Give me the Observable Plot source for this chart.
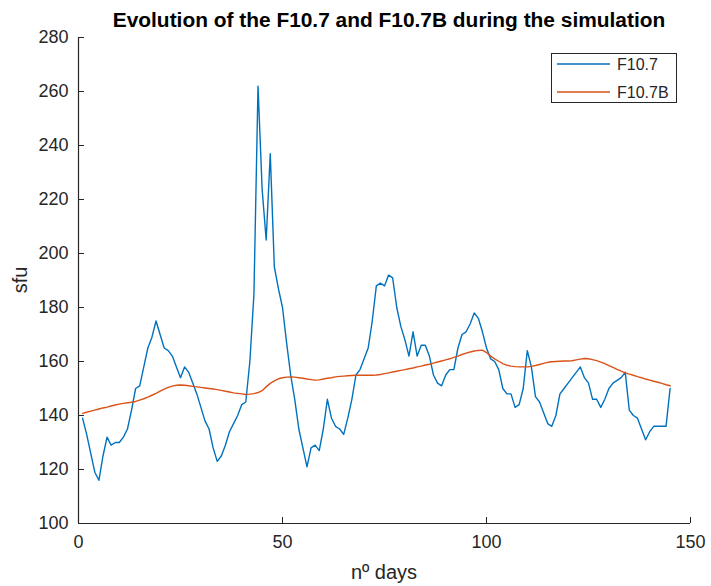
<!DOCTYPE html>
<html>
<head>
<meta charset="utf-8">
<script src="https://cdn.jsdelivr.net/npm/d3@7"></script>
<script src="https://cdn.jsdelivr.net/npm/@observablehq/plot@0.6"></script>
<style>
  body { margin: 0; background: #fff; font-family: "Liberation Sans", Arial, sans-serif; }
  #wrap { position: relative; width: 711px; height: 586px; background: #fff; }
  #title { position: absolute; left: 89px; width: 600px; top: 8px; text-align: center;
           font-weight: bold; font-size: 20.9px; color: #000; white-space: nowrap; }
  #legend { position: absolute; left: 551px; top: 53px; width: 126px; height: 50px;
            border: 1px solid #262626; background: #fff; box-sizing: border-box; }
  #xlabel { position: absolute; left: 78px; width: 612px; top: 561px; text-align: center;
            font-size: 20px; color: #262626; }
  #ylabel { position: absolute; left: 20px; top: 280px; transform: translate(-50%, -50%) rotate(-90deg);
            font-size: 20px; color: #262626; white-space: nowrap; }
</style>
</head>
<body>
<div id="wrap">
  <div id="chart"></div>
  <div id="title"></div>
  <div id="xlabel"></div>
  <div id="ylabel"></div>
  <div id="legend"></div>
</div>
<script>
const titleText = "Evolution of the F10.7 and F10.7B during the simulation";
const xLabel = "nº days";
const yLabel = "sfu";
const seriesNames = ["F10.7", "F10.7B"];
const seriesColors = ["#0072BD", "#D95319"];
const xTicks = [0, 50, 100, 150];
const yTicks = [100, 120, 140, 160, 180, 200, 220, 240, 260, 280];

// day index 1..145
const f107 = [
  139, 133, 126, 119, 116, 125, 132, 129, 130, 130,
  132, 135, 142, 150, 151, 158, 165, 169, 175, 170,
  165, 164, 162, 158, 154, 158, 156, 152, 148, 143,
  138, 135, 128, 123, 125, 129, 134, 137, 140, 144,
  145, 160, 185, 262, 224, 205, 237, 195, 187, 180,
  167, 155, 146, 135, 128, 121, 128, 129, 127, 135,
  146, 139, 136, 135, 133, 139, 146, 155, 157, 161,
  165, 175, 188, 189, 188, 192, 191, 180, 173, 168,
  162, 171, 162, 166, 166, 162, 155, 152, 151, 155,
  157, 157, 165, 170, 171, 174, 178, 176, 171, 165,
  161, 160, 157, 150, 148, 148, 143, 144, 150, 164,
  158, 147, 145, 141, 137, 136, 140, 148, 150, 152,
  154, 156, 158, 154, 152, 146, 146, 143, 146, 150,
  152, 153, 154, 156, 142, 140, 139, 135, 131, 134,
  136, 136, 136, 136, 150
];
const f107b = [
  140.8, 141.2, 141.6, 142.0, 142.4, 142.8, 143.1, 143.5, 143.9, 144.2,
  144.5, 144.7, 144.9, 145.2, 145.7, 146.2, 146.8, 147.5, 148.2, 149.0,
  149.8, 150.4, 150.9, 151.2, 151.3, 151.2, 151.0, 150.8, 150.6, 150.4,
  150.2, 150.0, 149.8, 149.6, 149.3, 149.0, 148.7, 148.4, 148.2, 148.0,
  147.8, 147.9, 148.1, 148.5, 149.2, 150.6, 151.9, 152.8, 153.6, 154.0,
  154.2, 154.3, 154.2, 154.0, 153.8, 153.5, 153.3, 153.1, 153.2, 153.5,
  153.8, 154.0, 154.3, 154.5, 154.6, 154.7, 154.8, 154.9, 154.9, 154.9,
  154.9, 154.9, 155.0, 155.2, 155.5, 155.8, 156.1, 156.4, 156.7, 157.0,
  157.3, 157.6, 158.0, 158.3, 158.7, 159.0, 159.4, 159.8, 160.2, 160.6,
  161.0, 161.5, 162.0, 162.6, 163.1, 163.5, 163.9, 164.1, 164.2, 163.3,
  162.0, 161.0, 160.1, 159.2, 158.6, 158.3, 158.1, 158.0, 158.0, 158.0,
  158.2, 158.5, 158.9, 159.3, 159.7, 159.9, 160.0, 160.1, 160.2, 160.2,
  160.3, 160.6, 160.9, 161.1, 161.0, 160.7, 160.3, 159.8, 159.2, 158.5,
  157.8, 157.1, 156.4, 155.8, 155.3, 154.9, 154.4, 154.0, 153.5, 153.1,
  152.7, 152.3, 151.9, 151.4, 151.0
];

const rows = f107.map((v, i) => ({ day: i + 1, f: v, fb: f107b[i] }));

const chart = Plot.plot({
  width: 711,
  height: 586,
  marginLeft: 78,
  marginRight: 21,
  marginTop: 37,
  marginBottom: 63,
  style: { fontFamily: "'Liberation Sans', Arial, sans-serif", fontSize: "18px", color: "#262626", background: "#fff" },
  x: { domain: [0, 150] },
  y: { domain: [100, 280] },
  marks: [
    Plot.axisX({ ticks: xTicks, tickSize: -6, tickPadding: 18, label: null, fontSize: 18, stroke: "#262626" }),
    Plot.axisY({ ticks: yTicks, tickSize: -6, tickPadding: 16, label: null, fontSize: 18, stroke: "#262626" }),
    Plot.ruleX([0], { stroke: "#262626", strokeWidth: 1.2 }),
    Plot.ruleY([100], { stroke: "#262626", strokeWidth: 1.2 }),
    Plot.lineY(rows, { x: "day", y: "f", stroke: seriesColors[0], strokeWidth: 1.4 }),
    Plot.lineY(rows, { x: "day", y: "fb", stroke: seriesColors[1], strokeWidth: 1.4 })
  ]
});
document.getElementById("chart").appendChild(chart);
document.getElementById("title").textContent = titleText;
document.getElementById("xlabel").textContent = xLabel;
document.getElementById("ylabel").textContent = yLabel;

// legend
const lg = d3.select("#legend").append("svg").attr("width", 124).attr("height", 48);
seriesNames.forEach((name, i) => {
  const cy = 10 + i * 28;
  lg.append("line").attr("x1", 5).attr("x2", 58).attr("y1", cy).attr("y2", cy)
    .attr("stroke", seriesColors[i]).attr("stroke-width", 1.4);
  lg.append("text").attr("x", 65).attr("y", cy).attr("dy", "0.35em")
    .attr("font-size", 16).attr("fill", "#262626")
    .attr("font-family", "'Liberation Sans', Arial, sans-serif").text(name);
});
</script>
</body>
</html>
